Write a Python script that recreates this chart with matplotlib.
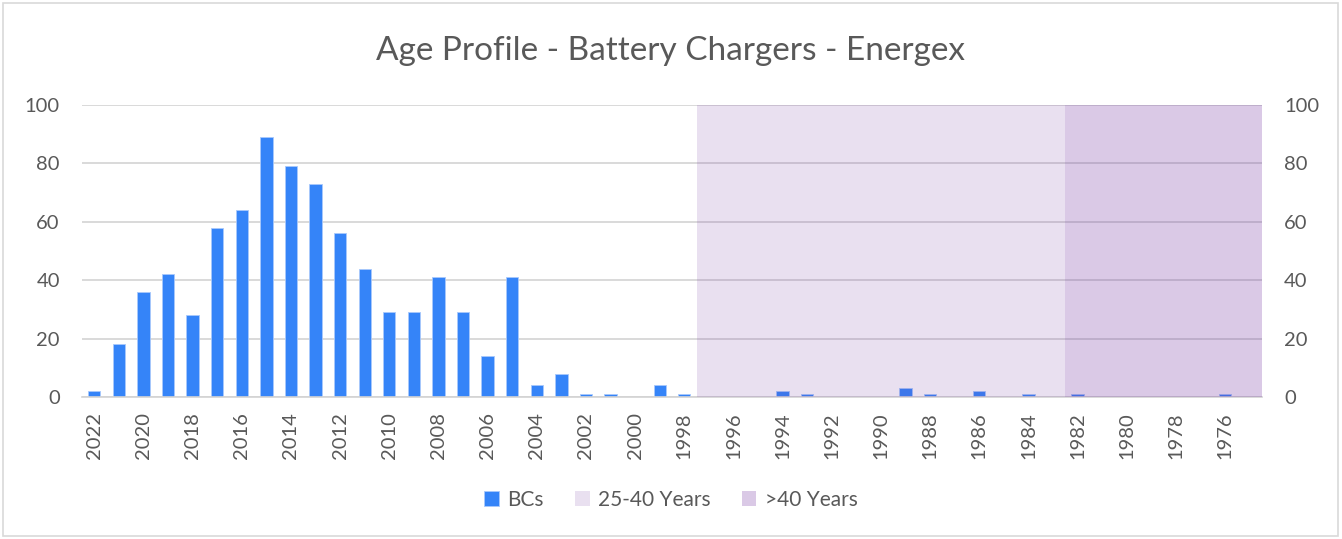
import matplotlib.pyplot as plt
import matplotlib.patches as mpatches
import numpy as np

plt.rcParams['font.family'] = ['Lato', 'DejaVu Sans']

# Years on the category axis (newest first, as in the chart)
years = list(range(2022, 1974, -1))

# Number of battery chargers per year of install
bcs = [2, 18, 36, 42, 28, 58, 64, 89, 79, 73,
       56, 44, 29, 29, 41, 29, 14, 41, 4, 8,
       1, 1, 0, 4, 1, 0, 0, 0, 2, 1,
       0, 0, 0, 3, 1, 0, 2, 0, 1, 0,
       1, 0, 0, 0, 0, 0, 1, 0]

# Age bands shown as background columns (first year, last year)
band_25_40 = (1997, 1983)
band_over_40 = (1982, 1975)
band_top = 100

grey = '#595959'
x = np.arange(len(years))


def band_span(band):
    # one block covering every category of the band (avoids seams between columns)
    i0 = years.index(band[0])
    i1 = years.index(band[1])
    return i0 - 0.5, i1 - i0 + 1


fig = plt.figure(figsize=(13.42, 5.39), dpi=100)
ax = fig.add_axes([82/1342, 1 - 397/539, 1180/1342, 292/539])

ax.set_axisbelow(True)
ax.yaxis.grid(True, color='#D3D3D3', linewidth=1.2)
ax.bar(x, bcs, width=0.5, color='#3584F8', edgecolor='#A9C9FB', linewidth=0.6,
       label='BCs', zorder=2)
left, w = band_span(band_25_40)
ax.bar(left, band_top, width=w, align='edge', color='#7030A0', alpha=0.15,
       linewidth=0, label='25-40 Years', zorder=3)
left, w = band_span(band_over_40)
ax.bar(left, band_top, width=w, align='edge', color='#7030A0', alpha=0.26,
       linewidth=0, label='>40 Years', zorder=3)

ax.set_xlim(-0.5, len(years) - 0.5)
ax.set_ylim(0, 100)
ax.set_yticks(range(0, 101, 20))
ax.set_xticks(x[::2])
ax.set_xticklabels([str(y) for y in years[::2]], rotation=90)
ax.tick_params(axis='x', length=0, pad=11, labelsize=14.5, labelcolor=grey)
ax.tick_params(axis='y', length=0, pad=16, labelsize=14.5, labelcolor=grey)
for s in ['top', 'left', 'right']:
    ax.spines[s].set_visible(False)
ax.spines['bottom'].set_color('#D3D3D3')
ax.spines['bottom'].set_linewidth(1.2)

ax2 = ax.twinx()
ax2.set_ylim(0, 100)
ax2.set_yticks(range(0, 101, 20))
ax2.tick_params(axis='y', length=0, pad=16, labelsize=14.5, labelcolor=grey)
for s in ax2.spines.values():
    s.set_visible(False)

fig.text(0.5, 1 - 51/539, 'Age Profile - Battery Chargers - Energex',
         ha='center', va='center', fontsize=24, color=grey)

handles, labels = ax.get_legend_handles_labels()
fig.legend(handles, labels, loc='center', bbox_to_anchor=(0.5, 1 - 500/539),
           ncol=3, frameon=False, fontsize=15, labelcolor=grey,
           handlelength=0.7, handleheight=0.7, handletextpad=0.4,
           columnspacing=1.5)

fig.patches.append(mpatches.Rectangle((3/1342, 3/539), 1335/1342, 533/539,
                                      transform=fig.transFigure, fill=False,
                                      edgecolor='#D9D9D9', linewidth=1.2))

fig.savefig('out.png', dpi=100)
